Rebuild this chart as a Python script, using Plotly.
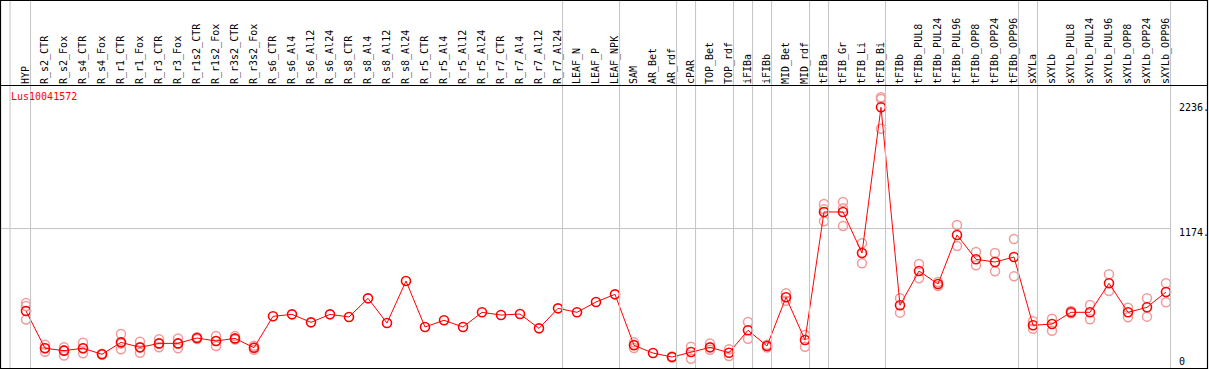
import plotly.graph_objects as go

categories = [
    "HYP", "R_s2_CTR", "R_s2_Fox", "R_s4_CTR", "R_s4_Fox", "R_r1_CTR", "R_r1_Fox",
    "R_r3_CTR", "R_r3_Fox", "R_r1s2_CTR", "R_r1s2_Fox", "R_r3s2_CTR", "R_r3s2_Fox",
    "R_s6_CTR", "R_s6_Al4", "R_s6_Al12", "R_s6_Al24", "R_s8_CTR", "R_s8_Al4",
    "R_s8_Al12", "R_s8_Al24", "R_r5_CTR", "R_r5_Al4", "R_r5_Al12", "R_r5_Al24",
    "R_r7_CTR", "R_r7_Al4", "R_r7_Al12", "R_r7_Al24", "LEAF_N", "LEAF_P", "LEAF_NPK",
    "SAM", "AR_Bet", "AR_rdf", "cPAR", "TOP_Bet", "TOP_rdf", "iFIBa", "iFIBb",
    "MID_Bet", "MID_rdf", "tFIBa", "tFIB_Gr", "tFIB_Li", "tFIB_Bi", "tFIBb",
    "tFIBb_PUL8", "tFIBb_PUL24", "tFIBb_PUL96", "tFIBb_OPP8", "tFIBb_OPP24", "tFIBb_OPP96",
    "sXYLa", "sXYLb", "sXYLb_PUL8", "sXYLb_PUL24", "sXYLb_PUL96", "sXYLb_OPP8",
    "sXYLb_OPP24", "sXYLb_OPP96",
]

mean_values = [
    446, 118, 97, 118, 65, 170, 126, 161, 161, 208, 182, 205, 123,
    399, 416, 346, 416, 393, 557, 340, 709, 305, 364, 305, 434,
    410, 419, 293, 469, 434, 525, 592,
    144, 76, 41, 85, 126, 79, 276, 138, 566, 191,
    1316, 1316, 955, 2236, 496, 797, 683, 1114, 900, 876, 920,
    320, 331, 434, 434, 689, 434, 478, 613,
]

rep1 = [
    515, 150, 127, 167, 70, 243, 176, 197, 205, 215, 226, 225, 140,
    None, None, None, None, None, None, None, None, None, None, None, None,
    None, None, None, None, None, None, None,
    170, None, 45, 132, 161, 109, 349, 150, 601, 235,
    1386, 1404, 1041, 2324, 557, 859, 700, 1202, 964, 955, 1078,
    355, 378, 445, 498, 768, 475, 557, 689,
]
rep2 = [
    490, 120, 100, 118, 62, 160, 125, 160, 160, 200, 182, 195, 123,
    None, None, None, None, None, None, None, None, None, None, None, None,
    None, None, None, None, None, None, None,
    150, None, 38, 26, 105, 50, 202, 125, 536, 132,
    1339, 1348, 865, 2309, 431, 733, 665, 1017, 847, 795, 750,
    290, 272, 425, 373, 621, 390, 396, 522,
]
rep3 = [
    370, 88, 55, 74, 63, 109, 79, 126, 118, 208, 138, 200, 105,
    None, None, None, None, None, None, None, None, None, None, None, None,
    None, None, None, None, None, None, None,
    120, None, None, None, None, None, None, None, None, None,
    1234, 1193, None, 2048, None, None, None, None, None, None, None,
    None, None, None, None, None, None, None, None,
]

axis_labels = ["2236.", "1174.", "0"]
axis_label_values = [2236, 1174, 0]
gene_label = "Lus10041572"

# index of last category in each group (vertical separators after them)
group_ends = [0, 28, 31, 34, 35, 37, 38, 39, 41, 42, 45, 52, 53, 60]

# ---- layout geometry ----
W, H = 1209, 370
L, R, T, B = 1, 38, 85, 2
pw, ph = W - L - R, H - T - B
step = 19.0
x0 = -(26 - L) / step
x1 = x0 + pw / step
spx = 0.113775
zero_px = 361.7
y0 = -(T + ph - zero_px) / spx
y1 = (zero_px - T) / spx


def pxx(p):
    return (p - L) / pw


def pxy(p):
    return 1 - (p - T) / ph


def idx_paper(i):
    return (i - x0) / (x1 - x0)


xs = list(range(len(categories)))
fig = go.Figure()

rep_color = "#f29a9a"
for reps in (rep1, rep2, rep3):
    fig.add_trace(go.Scatter(
        x=xs, y=reps, mode="markers",
        marker=dict(symbol="circle-open", size=9, color=rep_color, line=dict(width=1.5)),
        hoverinfo="skip", showlegend=False, cliponaxis=False,
    ))

fig.add_trace(go.Scatter(
    x=xs, y=mean_values, mode="lines+markers",
    line=dict(color="#ff0000", width=1),
    marker=dict(symbol="circle-open", size=9, color="#ff0000", line=dict(width=1.6)),
    showlegend=False, cliponaxis=False,
))

shapes = []
sep_idx = [-0.84] + [g + 0.24 for g in group_ends]
for si in sep_idx:
    xp = idx_paper(si)
    shapes.append(dict(type="line", xref="paper", yref="paper",
                       x0=xp, x1=xp, y0=pxy(0), y1=pxy(368),
                       line=dict(color="#c4c4c4", width=1)))
# horizontal line under labels
shapes.append(dict(type="line", xref="paper", yref="paper",
                   x0=pxx(0), x1=pxx(1208), y0=pxy(85.5), y1=pxy(85.5),
                   line=dict(color="black", width=1.2)))
# outer border
shapes.append(dict(type="rect", xref="paper", yref="paper",
                   x0=pxx(0.5), x1=pxx(1207.5), y0=pxy(368.5), y1=pxy(0.5),
                   line=dict(color="black", width=1.2)))

mono = "DejaVu Sans Mono"
annotations = [dict(
    text=gene_label, xref="paper", yref="paper", x=pxx(9), y=pxy(97),
    xanchor="left", yanchor="middle", showarrow=False,
    font=dict(family=mono, size=10, color="#ff0000"),
)]
shifts = [0, -4, 0]
for lab, val, sh in zip(axis_labels, axis_label_values, shifts):
    annotations.append(dict(
        text=lab, xref="paper", yref="y", x=pxx(1177), y=val, yshift=sh,
        xanchor="left", yanchor="middle", showarrow=False,
        font=dict(family=mono, size=10, color="black"),
    ))

fig.update_layout(
    width=W, height=H,
    margin=dict(l=L, r=R, t=T, b=B, pad=0),
    paper_bgcolor="white", plot_bgcolor="white",
    xaxis=dict(
        range=[x0, x1], side="top", tickmode="array", tickvals=xs, ticktext=categories,
        tickangle=-90, tickfont=dict(family=mono, size=10, color="black"),
        showgrid=False, zeroline=False, showline=False, ticks="",
    ),
    yaxis=dict(
        range=[y0, y1], tickmode="array", tickvals=[1174], showticklabels=False,
        showgrid=True, gridcolor="#c4c4c4", gridwidth=1, zeroline=False, showline=False, ticks="",
    ),
    shapes=shapes, annotations=annotations,
)

fig.write_html(
    "out.html",
    config={"displayModeBar": False},
    post_script="document.body.style.margin='0px';document.body.style.overflow='hidden';",
)
